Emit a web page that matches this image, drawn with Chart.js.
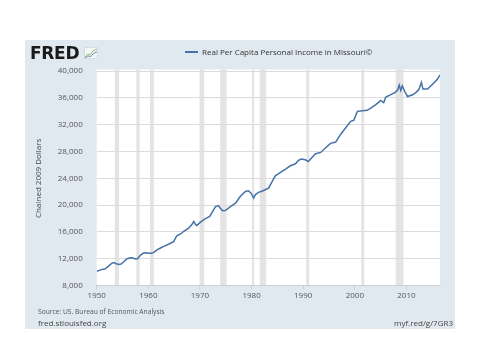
<!DOCTYPE html>
<html>
<head>
<meta charset="utf-8">
<script src="https://cdn.jsdelivr.net/npm/chart.js@4.4.1/dist/chart.umd.min.js"></script>
<style>
  body { margin: 0; width: 480px; height: 360px; background: #fff; position: relative; overflow: hidden; font-family: "Open Sans", sans-serif; }
  #panel { position: absolute; left: 25px; top: 40px; width: 430px; height: 289px; background: #e1e9f0; }
  #chart { position: absolute; left: 0; top: 0; }
  .txt { position: absolute; white-space: nowrap; }
  #logo { left: 30px; top: 43px; font-family: "DejaVu Sans", sans-serif; font-weight: bold; font-size: 17px; letter-spacing: -0.3px; color: #1a1a1a; }
  #logoIcon { position: absolute; left: 84px; top: 47px; }
  #legend { left: 185px; top: 46px; font-size: 8px; color: #333; }
  #legend span { display: inline-block; width: 13px; height: 2px; background: #4572a7; vertical-align: middle; margin-right: 4px; margin-top: -2px; }
  #source { left: 38px; top: 307px; font-size: 6.7px; color: #555; }
  #site { left: 38px; top: 317px; font-size: 8px; color: #444; }
  #short { right: 27px; top: 317px; font-size: 8px; color: #444; }
</style>
</head>
<body>
<div id="panel"></div>
<canvas id="chart" width="480" height="360"></canvas>
<div class="txt" id="logo">FRED</div>
<svg id="logoIcon" width="14" height="12" viewBox="0 0 14 12">
  <rect x="0.5" y="0.5" width="13" height="11" fill="#f4f6f8" stroke="#c8d0d8" stroke-width="0.6"/>
  <polyline points="1,10 4,7 6,8 9,4 13,2" fill="none" stroke="#8fbf5a" stroke-width="1"/>
  <polyline points="1,11 4,9 7,9.5 10,6 13,5" fill="none" stroke="#6b93c2" stroke-width="1"/>
</svg>
<div class="txt" id="legend"><span></span>Real Per Capita Personal Income in Missouri©</div>
<div class="txt" id="source">Source: US. Bureau of Economic Analysis</div>
<div class="txt" id="site">fred.stlouisfed.org</div>
<div class="txt" id="short">myf.red/g/7GR3</div>

<script>
// quarterly-ish readings, decimal year
const years = [1950.0, 1950.5, 1951.0, 1951.6, 1952.0, 1952.9, 1953.3, 1953.8, 1954.3, 1954.7,
  1955.2, 1955.8, 1956.5, 1957.0, 1957.5, 1957.9, 1958.5, 1959.0, 1959.5, 1960.0,
  1960.6, 1961.0, 1961.5, 1962.0, 1962.9, 1963.9, 1964.9, 1965.5, 1966.2, 1966.8,
  1967.8, 1968.4, 1968.8, 1969.1, 1969.4, 1970.1, 1971.0, 1971.9, 1972.5, 1973.0,
  1973.6, 1973.9, 1974.4, 1974.9, 1975.9, 1976.9, 1977.8, 1978.8, 1979.4, 1979.9,
  1980.4, 1980.7, 1981.4, 1981.9, 1982.5, 1983.3, 1984.0, 1984.6, 1985.6, 1986.6,
  1987.5, 1988.5, 1989.1, 1989.6, 1990.4, 1991.0, 1991.7, 1992.4, 1993.4, 1994.3,
  1995.3, 1996.3, 1997.2, 1998.2, 1999.2, 1999.8, 2000.5, 2001.5, 2002.4, 2003.1,
  2004.0, 2004.7, 2005.0, 2005.6, 2006.0, 2006.9, 2007.9, 2008.3, 2008.6, 2008.9,
  2009.2, 2009.7, 2010.2, 2011.2, 2011.8, 2012.4, 2012.9, 2013.2, 2014.1, 2015.0,
  2016.0, 2016.5];
const income = [10100, 10250, 10400, 10450, 10700, 11300, 11420, 11250, 11150, 11200,
  11500, 11950, 12150, 12100, 11950, 11980, 12550, 12800, 12880, 12820,
  12800, 12900, 13200, 13450, 13800, 14150, 14550, 15400, 15650, 16050,
  16550, 17050, 17550, 17150, 16950, 17450, 17950, 18300, 19100, 19780,
  19930, 19550, 19150, 19180, 19780, 20290, 21280, 22020, 22130, 21780,
  21040, 21530, 21930, 22020, 22250, 22530, 23520, 24370, 24860, 25370,
  25860, 26160, 26660, 26870, 26760, 26500, 27100, 27660, 27850, 28510,
  29200, 29400, 30500, 31500, 32490, 32640, 33980, 34080, 34130, 34450,
  34950, 35400, 35600, 35300, 36100, 36450, 36850, 37200, 37900, 37100,
  37780, 36900, 36200, 36450, 36780, 37230, 38300, 37300, 37300, 38000,
  38780, 39420];

const recessionStart = [1953.5, 1957.67, 1960.33, 1969.92, 1973.92, 1980.08, 1981.58, 1990.58, 2001.25, 2007.92];
const recessionEnd   = [1954.33, 1958.33, 1961.08, 1970.83, 1975.17, 1980.5, 1982.83, 1991.17, 2001.83, 2009.42];

const yearTicks = [1950, 1960, 1970, 1980, 1990, 2000, 2010];
const incomeTicks = [8000, 12000, 16000, 20000, 24000, 28000, 32000, 36000, 40000];

const points = years.map((yr, i) => ({ x: yr, y: income[i] }));

// white plot area + grey recession bars
const backdrop = {
  id: 'backdrop',
  beforeDraw(chart) {
    const ctx = chart.ctx, a = chart.chartArea, xs = chart.scales.x;
    ctx.save();
    ctx.fillStyle = '#ffffff';
    ctx.fillRect(a.left, a.top - 1.5, a.right - a.left, a.bottom - a.top + 1.5);
    ctx.fillStyle = '#e4e4e4';
    recessionStart.forEach((s, i) => {
      const x0 = xs.getPixelForValue(s), x1 = xs.getPixelForValue(recessionEnd[i]);
      ctx.fillRect(x0, a.top - 1.5, x1 - x0, a.bottom - a.top + 1.5);
    });
    ctx.restore();
  }
};

new Chart(document.getElementById('chart').getContext('2d'), {
  type: 'line',
  data: {
    datasets: [{
      label: 'Real Per Capita Personal Income in Missouri©',
      data: points,
      borderColor: '#4572a7',
      borderWidth: 1.5,
      pointRadius: 0,
      tension: 0,
      fill: false
    }]
  },
  options: {
    responsive: false,
    animation: false,
    layout: { padding: { left: 30, top: 71, right: 40, bottom: 0 } },
    plugins: { legend: { display: false }, tooltip: { enabled: false } },
    scales: {
      x: {
        type: 'linear',
        min: 1950,
        max: 2016.5,
        afterBuildTicks: s => { s.ticks = yearTicks.map(v => ({ value: v })); },
        afterFit: s => { s.height = 74.5; },
        grid: { drawOnChartArea: false, drawTicks: true, tickLength: 4, color: '#d0d0d0' },
        border: { display: true, color: '#d0d0d0' },
        ticks: { padding: 1, color: '#555', font: { family: 'Open Sans', size: 8 }, callback: v => String(v), maxRotation: 0 }
      },
      y: {
        min: 8000,
        max: 40000,
        afterBuildTicks: s => { s.ticks = incomeTicks.map(v => ({ value: v })); },
        afterFit: s => { s.width = 66.7; },
        grid: { drawTicks: false, color: '#dcdcdc' },
        border: { display: false },
        ticks: { padding: 14, color: '#555', font: { family: 'Open Sans', size: 8 }, callback: v => v.toLocaleString('en-US') },
        title: { display: true, text: 'Chained 2009 Dollars', color: '#444', font: { family: 'Open Sans', size: 8 }, padding: { top: 4, bottom: 4 } }
      }
    }
  },
  plugins: [backdrop]
});
</script>
</body>
</html>
